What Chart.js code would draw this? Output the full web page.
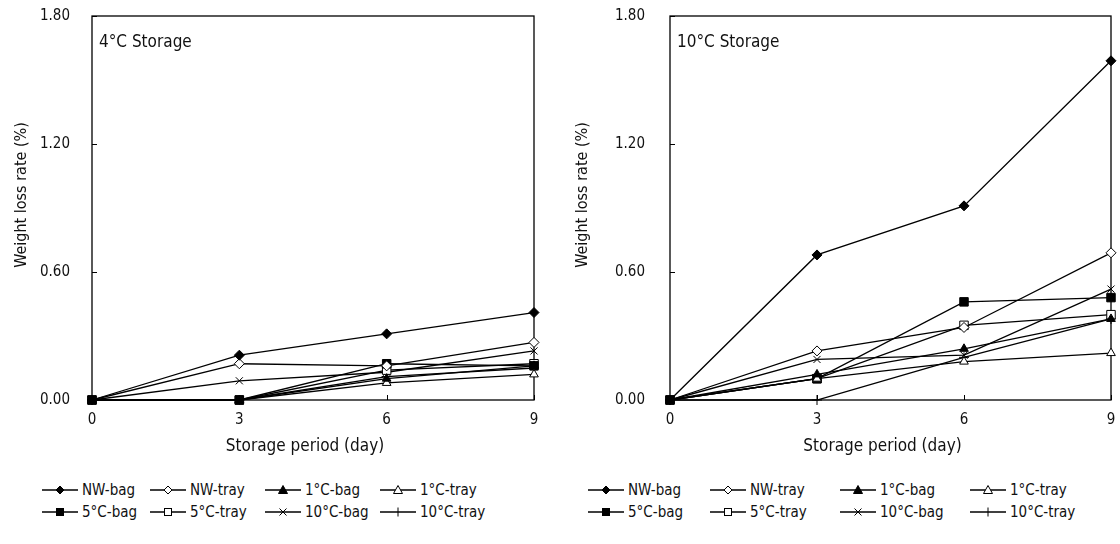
<!DOCTYPE html>
<html>
<head>
<meta charset="utf-8">
<script src="https://cdn.jsdelivr.net/npm/chart.js@4.4.0/dist/chart.umd.min.js"></script>
<style>
  html, body { margin: 0; padding: 0; background: #fff; }
  #wrap { position: relative; width: 1120px; height: 544px; overflow: hidden; background: #fff; }
  .panel { position: absolute; top: 0; width: 560px; height: 470px; }
  .legend { position: absolute; top: 479px; font-family: "Liberation Sans Narrow", "DejaVu Sans Condensed", "Liberation Sans", sans-serif; font-size: 15px; color: #111; }
  .legend .item { position: absolute; display: flex; align-items: center; white-space: nowrap; height: 22px; }
  .legend svg { margin-right: 4px; }
</style>
</head>
<body>
<div id="wrap">
  <div class="panel" style="left:0"><canvas id="c4" width="560" height="470"></canvas></div>
  <div class="panel" style="left:560px"><canvas id="c10" width="560" height="470"></canvas></div>
  <div class="legend" id="leg4" style="left:0"></div>
  <div class="legend" id="leg10" style="left:560px"></div>
</div>
<script>
// ---- data ----
const days = [0, 3, 6, 9];
const seriesNames = ['NW-bag', 'NW-tray', '1°C-bag', '1°C-tray', '5°C-bag', '5°C-tray', '10°C-bag', '10°C-tray'];
const yTicks = [0, 0.6, 1.2, 1.8];
const xTicks = [0, 3, 6, 9];
const xTitle = 'Storage period (day)';
const yTitle = 'Weight loss rate (%)';

// 4°C storage
const nwBag4   = [0, 0.21, 0.31, 0.41];
const nwTray4  = [0, 0.17, 0.16, 0.27];
const c1Bag4   = [0, 0.00, 0.10, 0.16];
const c1Tray4  = [0, 0.00, 0.08, 0.12];
const c5Bag4   = [0, 0.00, 0.17, 0.16];
const c5Tray4  = [0, 0.00, 0.14, 0.17];
const c10Bag4  = [0, 0.09, 0.13, 0.23];
const c10Tray4 = [0, 0.00, 0.11, 0.15];

// 10°C storage
const nwBag10   = [0, 0.68, 0.91, 1.59];
const nwTray10  = [0, 0.23, 0.34, 0.69];
const c1Bag10   = [0, 0.12, 0.24, 0.38];
const c1Tray10  = [0, 0.10, 0.18, 0.22];
const c5Bag10   = [0, 0.10, 0.46, 0.48];
const c5Tray10  = [0, 0.10, 0.35, 0.40];
const c10Bag10  = [0, 0.19, 0.21, 0.52];
const c10Tray10 = [0, 0.00, 0.20, 0.38];

const values4  = [nwBag4, nwTray4, c1Bag4, c1Tray4, c5Bag4, c5Tray4, c10Bag4, c10Tray4];
const values10 = [nwBag10, nwTray10, c1Bag10, c1Tray10, c5Bag10, c5Tray10, c10Bag10, c10Tray10];

// ---- styles ----
const FONT = '"Liberation Sans Narrow", "DejaVu Sans Condensed", "Liberation Sans", sans-serif';
const markers = [
  {style: 'rectRot',  fill: '#000', r: 5},
  {style: 'rectRot',  fill: '#fff', r: 5},
  {style: 'triangle', fill: '#000', r: 5},
  {style: 'triangle', fill: '#fff', r: 5},
  {style: 'rect',     fill: '#000', r: 6},
  {style: 'rect',     fill: '#fff', r: 6},
  {style: 'crossRot', fill: '#000', r: 5},
  {style: 'cross',    fill: '#000', r: 5}
];

const framePlugin = {
  id: 'frame',
  beforeDatasetsDraw(chart) {
    const {ctx, chartArea: a, scales: {x, y}} = chart;
    ctx.save();
    ctx.strokeStyle = '#000';
    ctx.lineWidth = 1.3;
    ctx.strokeRect(a.left, a.top, a.right - a.left, a.bottom - a.top);
    ctx.lineWidth = 1;
    ctx.beginPath();
    y.ticks.forEach(t => {
      const py = Math.round(y.getPixelForValue(t.value)) + 0.5;
      ctx.moveTo(a.left, py); ctx.lineTo(a.left + 5, py);
    });
    x.ticks.forEach(t => {
      const px = Math.round(x.getPixelForValue(t.value)) + 0.5;
      ctx.moveTo(px, a.bottom); ctx.lineTo(px, a.bottom - 5);
    });
    ctx.stroke();
    ctx.restore();
  },
  afterDraw(chart, args, opts) {
    const {ctx, chartArea: a} = chart;
    ctx.save();
    ctx.fillStyle = '#111';
    ctx.textBaseline = 'middle';
    // panel label
    ctx.font = '17px ' + FONT;
    ctx.textAlign = 'left';
    ctx.fillText(opts.label, a.left + 7, a.top + 27);
    // x-axis title
    ctx.textAlign = 'center';
    ctx.font = '17px ' + FONT;
    ctx.fillText(xTitle, (a.left + a.right) / 2 + opts.xTitleDx, 447);
    // y-axis title
    ctx.font = '16px ' + FONT;
    ctx.translate(opts.yTitleX, 195);
    ctx.rotate(-Math.PI / 2);
    ctx.fillText(yTitle, 0, 0);
    ctx.restore();
  }
};

function makeChart(id, values, label, plotLeft, plotRight, yTitleX, tickGap, xTitleDx) {
  const datasets = values.map((v, i) => ({
    label: seriesNames[i],
    data: days.map((d, k) => ({x: d, y: v[k]})),
    borderColor: '#000',
    borderWidth: 1.3,
    backgroundColor: markers[i].fill,
    pointStyle: markers[i].style,
    pointRadius: markers[i].r,
    pointBorderColor: '#000',
    pointBackgroundColor: markers[i].fill,
    pointBorderWidth: 1,
    tension: 0,
    clip: false
  }));
  return new Chart(document.getElementById(id), {
    type: 'line',
    data: {datasets},
    plugins: [framePlugin],
    options: {
      responsive: false,
      animation: false,
      devicePixelRatio: 1,
      layout: {padding: {left: 0, right: 560 - plotRight, top: 16, bottom: 0}},
      plugins: {
        legend: {display: false},
        tooltip: {enabled: false},
        frame: {label: label, yTitleX: yTitleX, xTitleDx: xTitleDx}
      },
      scales: {
        x: {
          type: 'linear', min: 0, max: 9,
          afterBuildTicks: s => { s.ticks = xTicks.map(v => ({value: v})); },
          ticks: {color: '#111', font: {family: FONT, size: 15}, padding: 0, maxRotation: 0},
          grid: {display: false, drawTicks: true, tickLength: 11}, border: {display: false},
          title: {display: false},
          afterFit: s => { s.height = 70; }
        },
        y: {
          type: 'linear', min: 0, max: 1.8,
          afterBuildTicks: s => { s.ticks = yTicks.map(v => ({value: v})); },
          ticks: {color: '#111', font: {family: FONT, size: 15}, padding: 0, callback: v => Number(v).toFixed(2)},
          grid: {display: false, drawTicks: true, tickLength: tickGap}, border: {display: false},
          title: {display: false},
          afterFit: s => { s.width = plotLeft; }
        }
      }
    }
  });
}

makeChart('c4', values4, '4°C Storage', 92, 534, 22, 22, -8);
makeChart('c10', values10, '10°C Storage', 110, 551, 23, 25, -8);

// ---- HTML legend ----
function iconSVG(i) {
  const m = markers[i];
  const cx = 18, cy = 7;
  let shape = '';
  const f = m.fill;
  if (m.style === 'rectRot') shape = `<polygon points="${cx},${cy-4} ${cx+4},${cy} ${cx},${cy+4} ${cx-4},${cy}" fill="${f}" stroke="#000" stroke-width="1"/>`;
  else if (m.style === 'triangle') shape = `<polygon points="${cx},${cy-4.5} ${cx+4.5},${cy+3.5} ${cx-4.5},${cy+3.5}" fill="${f}" stroke="#000" stroke-width="1"/>`;
  else if (m.style === 'rect') shape = `<rect x="${cx-3.5}" y="${cy-3.5}" width="7" height="7" fill="${f}" stroke="#000" stroke-width="1"/>`;
  else if (m.style === 'crossRot') shape = `<path d="M${cx-3.5} ${cy-3.5}L${cx+3.5} ${cy+3.5}M${cx+3.5} ${cy-3.5}L${cx-3.5} ${cy+3.5}" stroke="#000" stroke-width="1"/>`;
  else shape = `<path d="M${cx} ${cy-4.5}L${cx} ${cy+4.5}" stroke="#000" stroke-width="1"/>`;
  return `<svg width="36" height="14" viewBox="0 0 36 14"><line x1="0" y1="${cy}" x2="36" y2="${cy}" stroke="#000" stroke-width="1.4"/>${shape}</svg>`;
}
function buildLegend(id, cols) {
  const el = document.getElementById(id);
  let html = '';
  seriesNames.forEach((n, i) => {
    const row = Math.floor(i / 4), col = i % 4;
    html += `<div class="item" style="left:${cols[col]}px;top:${row * 22}px">${iconSVG(i)}<span>${n}</span></div>`;
  });
  el.innerHTML = html;
}
buildLegend('leg4', [42, 150, 265, 380]);
buildLegend('leg10', [28, 150, 280, 410]);
</script>
</body>
</html>
